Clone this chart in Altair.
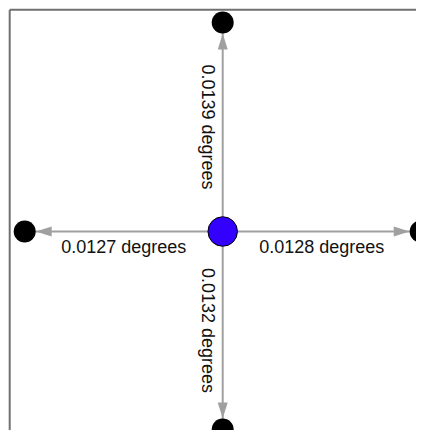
import math
import altair as alt
import pandas as pd

# ---- data -------------------------------------------------------------
node_names = ["origin", "north", "east", "south", "west"]
node_x = [0, 0, 198, 0, -198]
node_y = [0, 209, 0, -198, 0]
edge_targets = ["north", "east", "south", "west"]
edge_labels = ["0.0139 degrees", "0.0128 degrees", "0.0132 degrees", "0.0127 degrees"]

# ---- derived tables ---------------------------------------------------
nodes = pd.DataFrame({"name": node_names, "x": node_x, "y": node_y})
nodes["kind"] = ["origin"] + ["target"] * (len(node_names) - 1)

pos = {n: (x, y) for n, x, y in zip(node_names, node_x, node_y)}
ox, oy = pos["origin"]
DOT_R = 11
HEAD_HALF = 8
rows = []
for t, lab in zip(edge_targets, edge_labels):
    tx, ty = pos[t]
    dx, dy = tx - ox, ty - oy
    L = math.hypot(dx, dy)
    ux, uy = dx / L, dy / L
    rows.append({
        "x": ox, "y": oy, "x2": tx, "y2": ty,
        "hx": tx - ux * (DOT_R + HEAD_HALF),
        "hy": ty - uy * (DOT_R + HEAD_HALF),
        "head_angle": math.degrees(math.atan2(ux, uy)) % 360,
        "mx": (ox + tx) / 2, "my": (oy + ty) / 2,
        "label": lab,
        "label_angle": 90 if abs(uy) > abs(ux) else 0,
    })
edges = pd.DataFrame(rows)

W, H = 408, 422
xs = alt.Scale(domain=[-214.7, 193.3], nice=False, zero=False)
ys = alt.Scale(domain=[-198.5, 223.5], nice=False, zero=False)
X = lambda f: alt.X(f, type="quantitative", scale=xs, axis=None)
Y = lambda f: alt.Y(f, type="quantitative", scale=ys, axis=None)

frame_top = alt.Chart(nodes.head(1)).mark_rule(color="#707070", strokeWidth=2).encode(
    x=alt.value(1.7), x2=alt.value(W + 10), y=alt.value(1.7))
frame_left = alt.Chart(nodes.head(1)).mark_rule(color="#707070", strokeWidth=2).encode(
    x=alt.value(1.7), y=alt.value(1.7), y2=alt.value(H + 10))

lines = alt.Chart(edges).mark_rule(color="#a0a0a0", strokeWidth=2).encode(
    x=X("x"), y=Y("y"), x2="x2", y2="y2")

heads = alt.Chart(edges).mark_point(
    shape="M0,-1L0.625,1L-0.625,1Z", filled=True, color="#a0a0a0",
    size=256, opacity=1, strokeWidth=0).encode(
    x=X("hx"), y=Y("hy"), angle=alt.Angle("head_angle:Q", scale=None))

labels = alt.Chart(edges).mark_text(
    font="Liberation Sans", fontSize=18, color="#111111",
    align="center", baseline="alphabetic", dy=21).encode(
    x=X("mx"), y=Y("my"), text="label:N",
    angle=alt.Angle("label_angle:Q", scale=None))

targets = alt.Chart(nodes[nodes.kind == "target"]).mark_point(
    shape="circle", filled=True, color="#000000", size=484, opacity=1).encode(
    x=X("x"), y=Y("y"))

origin = alt.Chart(nodes[nodes.kind == "origin"]).mark_point(
    shape="circle", filled=True, fill="#3300ff", stroke="#000000",
    strokeWidth=1, size=870, opacity=1).encode(
    x=X("x"), y=Y("y"))

chart = alt.layer(frame_top, frame_left, lines, heads, labels, targets, origin).properties(
    width=W, height=H, padding=0, autosize=alt.AutoSizeParams(type="none")
).configure_view(stroke="transparent", strokeWidth=0)

chart.save("out.html", embed_options={"renderer": "svg", "actions": False})
